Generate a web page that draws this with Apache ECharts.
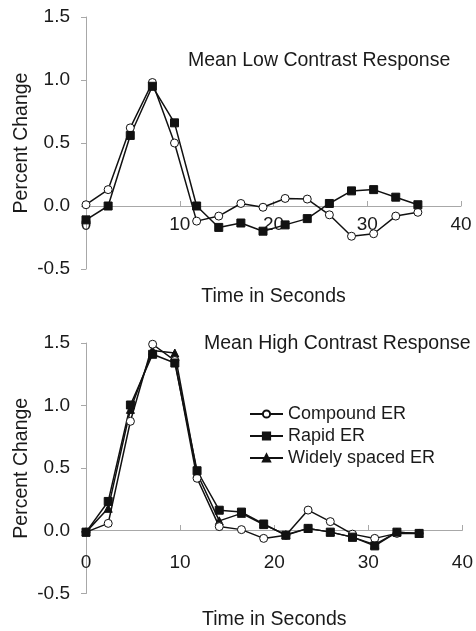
<!DOCTYPE html>
<html>
<head>
<meta charset="utf-8">
<script src="https://cdn.jsdelivr.net/npm/echarts@6/dist/echarts.min.js"></script>
<style>
  html, body { margin: 0; padding: 0; background: #fff; }
  #chart { width: 476px; height: 631px; }
</style>
</head>
<body>
<div id="chart"></div>
<script>
// time points (s)
const times = [0, 2.36, 4.72, 7.08, 9.44, 11.8, 14.16, 16.52, 18.88, 21.24, 23.6, 25.96, 28.32, 30.68, 33.04, 35.4];

// Mean Low Contrast Response
const lowCompound = [0.01, 0.13, 0.62, 0.98, 0.5, -0.12, -0.08, 0.02, -0.01, 0.06, 0.055, -0.07, -0.24, -0.22, -0.08, -0.05];
const lowRapid = [-0.11, 0.0, 0.56, 0.95, 0.66, 0.0, -0.17, -0.135, -0.2, -0.15, -0.1, 0.02, 0.12, 0.13, 0.07, 0.01];

// Mean High Contrast Response
const highCompound = [-0.01, 0.06, 0.875, 1.49, 1.36, 0.42, 0.034, 0.01, -0.06, -0.035, 0.166, 0.074, -0.026, -0.06, -0.02, -0.02];
const highRapid = [-0.01, 0.235, 1.005, 1.41, 1.34, 0.48, 0.165, 0.15, 0.055, -0.035, 0.02, -0.01, -0.05, -0.12, -0.01, -0.02];
const highWide = [-0.01, 0.18, 0.97, 1.44, 1.42, 0.46, 0.08, 0.14, 0.05, -0.03, 0.02, -0.01, -0.05, -0.11, -0.01, -0.02];

const xTicks = [0, 10, 20, 30, 40];
const yTicks = [-0.5, 0.0, 0.5, 1.0, 1.5];

const FONT = "Liberation Sans";
const txt = { color: "#1a1a1a", fontFamily: FONT, fontSize: 19 };
const big = { color: "#1a1a1a", fontFamily: FONT, fontSize: 19.5, fontWeight: "normal" };

function pairs(vals) {
  return vals.map((v, i) => [times[i], v]);
}

// x axis drawn at y = 0 by shifting it up from the grid bottom
function xAxis(idx, offset, labelMargin, nameGap) {
  return {
    type: "value",
    gridIndex: idx,
    position: "bottom",
    offset: offset,
    min: xTicks[0],
    max: xTicks[xTicks.length - 1],
    interval: 10,
    name: "Time in Seconds",
    nameLocation: "middle",
    nameGap: nameGap,
    nameMoveOverlap: false,
    nameTextStyle: big,
    axisLine: { onZero: false, lineStyle: { color: "#a8a8a8", width: 1 } },
    axisTick: { show: true, inside: true, length: 5, lineStyle: { color: "#a8a8a8" } },
    axisLabel: Object.assign({ margin: labelMargin }, txt),
    splitLine: { show: false },
  };
}

function yAxis(idx) {
  return {
    type: "value",
    gridIndex: idx,
    min: yTicks[0],
    max: yTicks[yTicks.length - 1],
    interval: 0.5,
    name: "Percent Change",
    nameLocation: "middle",
    nameGap: 54,
    nameMoveOverlap: false,
    nameTextStyle: big,
    axisLine: { show: true, lineStyle: { color: "#a8a8a8", width: 1 } },
    axisTick: { show: true, length: 5, lineStyle: { color: "#a8a8a8" } },
    axisLabel: Object.assign({ margin: 16, formatter: (v) => v.toFixed(1) }, txt),
    splitLine: { show: false },
  };
}

function line(name, vals, idx, symbol, fill, size) {
  return {
    name: name,
    type: "line",
    xAxisIndex: idx,
    yAxisIndex: idx,
    data: pairs(vals),
    symbol: symbol,
    symbolSize: size,
    showAllSymbol: true,
    lineStyle: { color: "#111", width: 1.5 },
    itemStyle: { color: fill, borderColor: "#111", borderWidth: 1 },
    emphasis: { disabled: true },
    animation: false,
  };
}

const chart = echarts.init(document.getElementById("chart"));
chart.setOption({
  backgroundColor: "#fff",
  animation: false,
  title: [
    { text: "Mean Low Contrast Response", left: 183, top: 46, textStyle: big },
    { text: "Mean High Contrast Response", left: 199, top: 329, textStyle: big },
  ],
  legend: {
    orient: "vertical",
    left: 244,
    top: 400,
    itemWidth: 33,
    itemHeight: 9,
    itemGap: 4,
    textStyle: { color: "#1a1a1a", fontFamily: FONT, fontSize: 18 },
    data: ["Compound ER", "Rapid ER", "Widely spaced ER"],
  },
  grid: [
    { left: 86, right: 15, top: 17, height: 252 },
    { left: 86, right: 13, top: 343, height: 254 },
  ],
  xAxis: [xAxis(0, -63, 9, 81), xAxis(1, -63.5, 23, 80)],
  yAxis: [yAxis(0), yAxis(1)],
  series: [
    line("Compound ER", lowCompound, 0, "circle", "#fff", 8),
    line("Rapid ER", lowRapid, 0, "rect", "#111", 8),
    line("Widely spaced ER", highWide, 1, "triangle", "#111", 8),
    line("Compound ER", highCompound, 1, "circle", "#fff", 8),
    line("Rapid ER", highRapid, 1, "rect", "#111", 8),
  ],
});
</script>
</body>
</html>
